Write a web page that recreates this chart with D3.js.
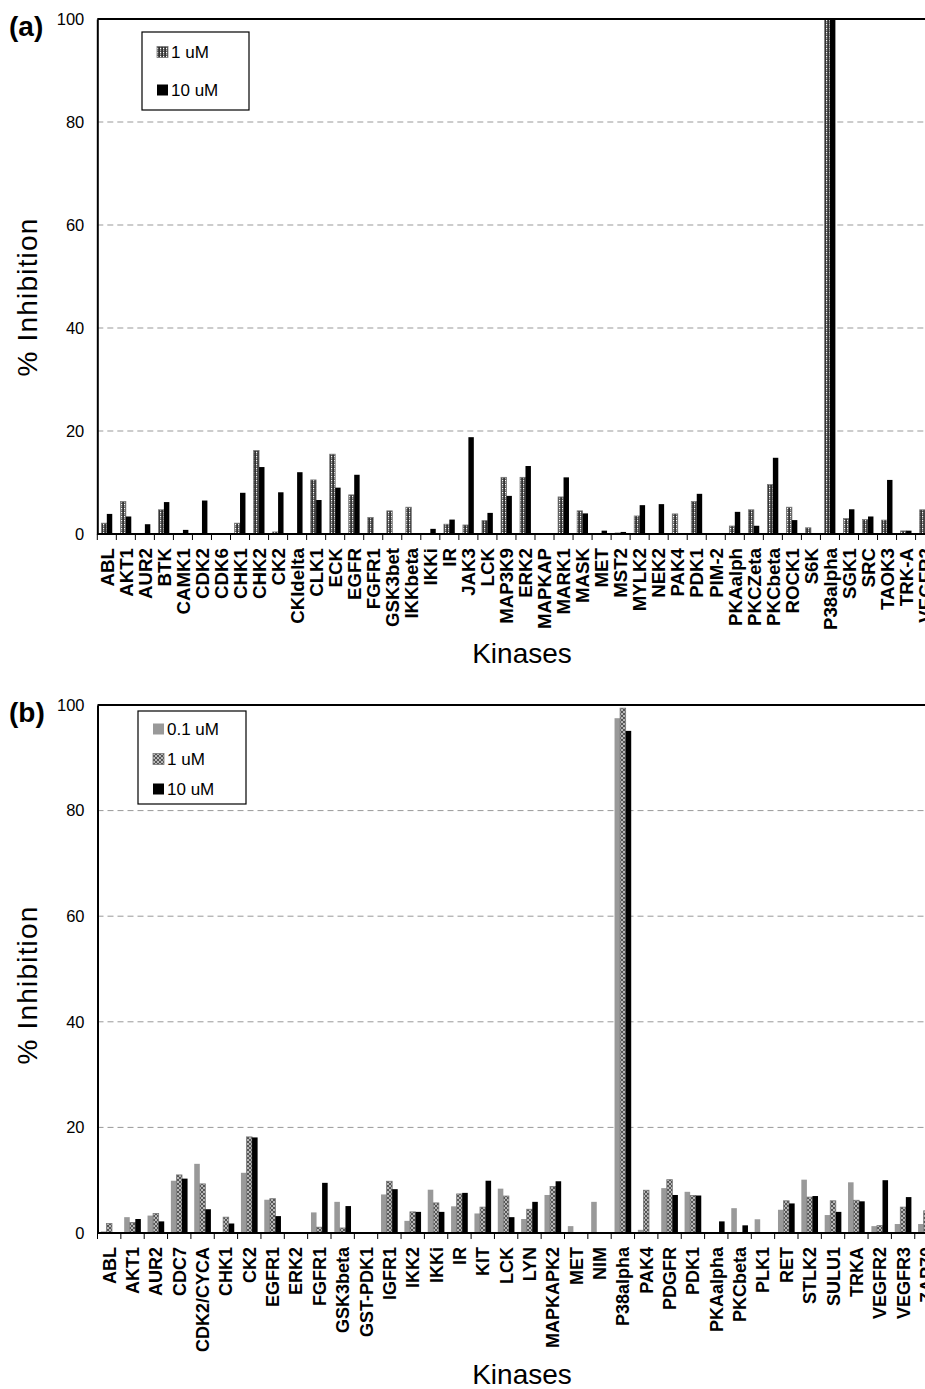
<!DOCTYPE html>
<html>
<head>
<meta charset="utf-8">
<script src="https://cdn.jsdelivr.net/npm/d3@7"></script>
<style>
    body { margin: 0; background: #fff; }
    svg { display: block; font-family: "Liberation Sans", Arial, sans-serif; }
</style>
</head>
<body>
<div id="chart"></div>
<script>
// panel (a) data
const kinasesA = ["ABL", "AKT1", "AUR2", "BTK", "CAMK1", "CDK2", "CDK6", "CHK1", "CHK2", "CK2",
    "CKIdelta", "CLK1", "ECK", "EGFR", "FGFR1", "GSK3bet", "IKKbeta", "IKKi", "IR", "JAK3",
    "LCK", "MAP3K9", "ERK2", "MAPKAP", "MARK1", "MASK", "MET", "MST2", "MYLK2", "NEK2",
    "PAK4", "PDK1", "PIM-2", "PKAalph", "PKCZeta", "PKCbeta", "ROCK1", "S6K", "P38alpha", "SGK1",
    "SRC", "TAOK3", "TRK-A", "VEGFR2"];
const inhibA_1uM = [2.1, 6.3, 0, 4.7, 0, 0, 0, 2.1, 16.2, 0.4,
    0, 10.5, 15.5, 7.6, 3.2, 4.5, 5.2, 0, 1.9, 1.75,
    2.6, 11.0, 11.0, 0, 7.2, 4.5, 0, 0.2, 3.5, 0,
    3.9, 6.3, 0, 1.55, 4.7, 9.6, 5.2, 1.2, 100, 3.0,
    2.8, 2.7, 0.6, 4.7];
const inhibA_10uM = [3.9, 3.4, 1.9, 6.2, 0.8, 6.5, 0, 8.0, 13.0, 8.1,
    12.0, 6.6, 9.0, 11.5, 0, 0, 0, 1.0, 2.8, 18.8,
    4.1, 7.4, 13.2, 0, 11.0, 4.0, 0.65, 0.4, 5.6, 5.8,
    0, 7.8, 0, 4.3, 1.6, 14.8, 2.7, 0, 100, 4.8,
    3.4, 10.5, 0.65, 5.0];

// panel (b) data
const kinasesB = ["ABL", "AKT1", "AUR2", "CDC7", "CDK2/CYCA", "CHK1", "CK2", "EGFR1", "ERK2", "FGFR1",
    "GSK3beta", "GST-PDK1", "IGFR1", "IKK2", "IKKi", "IR", "KIT", "LCK", "LYN", "MAPKAPK2",
    "MET", "NIM", "P38alpha", "PAK4", "PDGFR", "PDK1", "PKAalpha", "PKCbeta", "PLK1", "RET",
    "STLK2", "SULU1", "TRKA", "VEGFR2", "VEGFR3", "ZAP70"];
const inhibB_01uM = [0.3, 3.0, 3.3, 9.9, 13.1, 0, 11.4, 6.3, 0, 3.9,
    5.9, 0, 7.3, 2.3, 8.2, 5.05, 3.7, 8.4, 2.65, 7.2,
    1.3, 5.9, 97.5, 0.6, 8.5, 7.8, 0, 4.7, 2.6, 4.4,
    10.1, 3.4, 9.6, 1.3, 1.7, 1.7];
const inhibB_1uM = [1.8, 2.0, 3.7, 11.0, 9.3, 3.0, 18.2, 6.5, 0, 1.1,
    0.95, 0, 9.8, 4.0, 5.7, 7.4, 4.9, 7.0, 4.5, 8.8,
    0, 0, 99.4, 8.1, 10.1, 7.1, 0, 0, 0, 6.1,
    6.8, 6.1, 6.2, 1.4, 4.9, 4.2];
const inhibB_10uM = [0, 2.65, 2.2, 10.3, 4.5, 1.8, 18.1, 3.2, 0, 9.5,
    5.1, 0, 8.3, 4.0, 4.0, 7.6, 9.9, 3.0, 5.9, 9.8,
    0, 0, 95.1, 0, 7.2, 7.1, 2.2, 1.45, 0, 5.6,
    7.0, 4.0, 6.0, 10.0, 6.8, 3.0];

const yTicks = [0, 20, 40, 60, 80, 100];

const svg = d3.select("#chart").append("svg")
    .attr("width", 925)
    .attr("height", 1389);

// patterns for the 1 uM bars
const defs = svg.append("defs");
let dots = defs.append("pattern")
    .attr("id", "dotsA")
    .attr("patternUnits", "userSpaceOnUse")
    .attr("width", 3).attr("height", 4);
dots.append("rect").attr("width", 3).attr("height", 4).attr("fill", "#333");
dots.append("rect").attr("x", 1).attr("y", 0).attr("width", 1.2).attr("height", 1.4).attr("fill", "#fff");
dots.append("rect").attr("x", 1).attr("y", 2).attr("width", 1.2).attr("height", 1.4).attr("fill", "#aaa");

let hatch = defs.append("pattern")
    .attr("id", "hatchB")
    .attr("patternUnits", "userSpaceOnUse")
    .attr("width", 4).attr("height", 4);
hatch.append("rect").attr("width", 4).attr("height", 4).attr("fill", "#555");
hatch.append("path").attr("d", "M0,0 L4,4 M4,0 L0,4")
    .attr("stroke", "#d0d0d0").attr("stroke-width", 0.8);

class BarPanel {
    constructor(opts) {
        Object.assign(this, opts);
        this.initVis();
    }

    initVis() {
        let vis = this;
        vis.g = svg.append("g");

        vis.x = d3.scaleBand()
            .domain(vis.kinases)
            .range([vis.left, vis.left + vis.kinases.length * vis.step])
            .paddingInner(0).paddingOuter(0);

        vis.xSub = d3.scaleBand()
            .domain(vis.series.map(s => s.name))
            .range([0, vis.step])
            .paddingInner(0)
            .paddingOuter(vis.outerPad);

        vis.y = d3.scaleLinear().domain([0, 100]).range([vis.bottom, vis.top]);

        // grid
        vis.g.selectAll(".grid")
            .data(yTicks.filter(t => t > 0 && t < 100))
            .enter().append("line")
            .attr("x1", vis.left).attr("x2", 925)
            .attr("y1", d => vis.y(d)).attr("y2", d => vis.y(d))
            .attr("stroke", "#999").attr("stroke-width", 1)
            .attr("stroke-dasharray", "6,4");

        // bars
        vis.series.forEach(s => {
            vis.g.selectAll(".bar-" + s.key)
                .data(s.values)
                .enter().append("rect")
                .attr("x", (d, i) => vis.x(vis.kinases[i]) + vis.xSub(s.name))
                .attr("y", d => vis.y(d))
                .attr("width", vis.xSub.bandwidth())
                .attr("height", d => vis.y(0) - vis.y(d))
                .attr("fill", s.fill)
                .attr("stroke", s.stroke || "none")
                .attr("stroke-width", s.stroke ? 0.8 : 0);
        });

        // frame: left axis, top border, baseline
        vis.g.append("line")
            .attr("x1", vis.left).attr("x2", 925)
            .attr("y1", vis.top).attr("y2", vis.top)
            .attr("stroke", "#000").attr("stroke-width", 2);

        let xAxis = vis.g.append("g")
            .attr("transform", `translate(0,${vis.bottom})`)
            .call(d3.axisBottom(vis.x).tickSize(0).tickFormat(""));
        xAxis.select(".domain").attr("stroke-width", 2).attr("d", `M${vis.left},0H935`);

        // tick marks at category boundaries
        vis.g.selectAll(".xtick")
            .data(vis.kinases)
            .enter().append("line")
            .attr("x1", d => vis.x(d)).attr("x2", d => vis.x(d))
            .attr("y1", vis.bottom).attr("y2", vis.bottom + 6)
            .attr("stroke", "#000").attr("stroke-width", 1);

        vis.g.selectAll(".xlabel")
            .data(vis.kinases)
            .enter().append("text")
            .attr("transform", d => `translate(${vis.x(d) + vis.step / 2},${vis.bottom + 14}) rotate(-90)`)
            .attr("text-anchor", "end")
            .attr("dy", "0.36em")
            .attr("font-size", vis.labelSize)
            .attr("font-weight", "bold")
            .text(d => d);

        let yAxis = vis.g.append("g")
            .attr("transform", `translate(${vis.left},0)`)
            .call(d3.axisLeft(vis.y).tickValues(yTicks).tickSize(0).tickPadding(13));
        yAxis.select(".domain").attr("stroke-width", 2);
        yAxis.selectAll("text").attr("font-size", 16.5).attr("font-family", "Liberation Sans, Arial, sans-serif");

        // panel letter and titles
        vis.g.append("text")
            .attr("x", 9).attr("y", vis.top + 17)
            .attr("font-size", 28).attr("font-weight", "bold")
            .text(vis.letter);

        vis.g.append("text")
            .attr("transform", `translate(37,${vis.yTitleY}) rotate(-90)`)
            .attr("text-anchor", "middle")
            .attr("font-size", 28)
            .attr("letter-spacing", 1.2)
            .text("% Inhibition");

        vis.g.append("text")
            .attr("x", 522).attr("y", vis.xTitleY)
            .attr("text-anchor", "middle")
            .attr("font-size", 28)
            .text("Kinases");

        // legend
        let lg = vis.g.append("g");
        lg.append("rect")
            .attr("x", vis.legend.x).attr("y", vis.legend.y)
            .attr("width", vis.legend.w).attr("height", vis.legend.h)
            .attr("fill", "#fff").attr("stroke", "#000").attr("stroke-width", 1.2);
        vis.series.forEach((s, i) => {
            let yy = vis.legend.y + vis.legend.first + i * vis.legend.gap;
            lg.append("rect")
                .attr("x", vis.legend.x + 15).attr("y", yy - 11.5)
                .attr("width", 11).attr("height", 11)
                .attr("fill", s.fill)
                .attr("stroke", s.stroke || "none").attr("stroke-width", 0.8);
            lg.append("text")
                .attr("x", vis.legend.x + 29).attr("y", yy)
                .attr("font-size", 17)
                .text(s.name);
        });
    }
}

new BarPanel({
    letter: "(a)",
    kinases: kinasesA,
    left: 97.3, step: 19.03, outerPad: 0.75,
    top: 19, bottom: 534, labelSize: 18.7,
    yTitleY: 297, xTitleY: 663,
    legend: { x: 142, y: 32, w: 107, h: 78, first: 26, gap: 38 },
    series: [
        { key: "a1", name: "1 uM", values: inhibA_1uM, fill: "url(#dotsA)", stroke: "#777" },
        { key: "a10", name: "10 uM", values: inhibA_10uM, fill: "#000" }
    ]
});

new BarPanel({
    letter: "(b)",
    kinases: kinasesB,
    left: 97.5, step: 23.35, outerPad: 0.6,
    top: 705, bottom: 1233, labelSize: 18,
    yTitleY: 985, xTitleY: 1384,
    legend: { x: 138, y: 711, w: 108, h: 93, first: 24, gap: 30 },
    series: [
        { key: "b01", name: "0.1 uM", values: inhibB_01uM, fill: "#999" },
        { key: "b1", name: "1 uM", values: inhibB_1uM, fill: "url(#hatchB)", stroke: "#777" },
        { key: "b10", name: "10 uM", values: inhibB_10uM, fill: "#000" }
    ]
});
</script>
</body>
</html>
